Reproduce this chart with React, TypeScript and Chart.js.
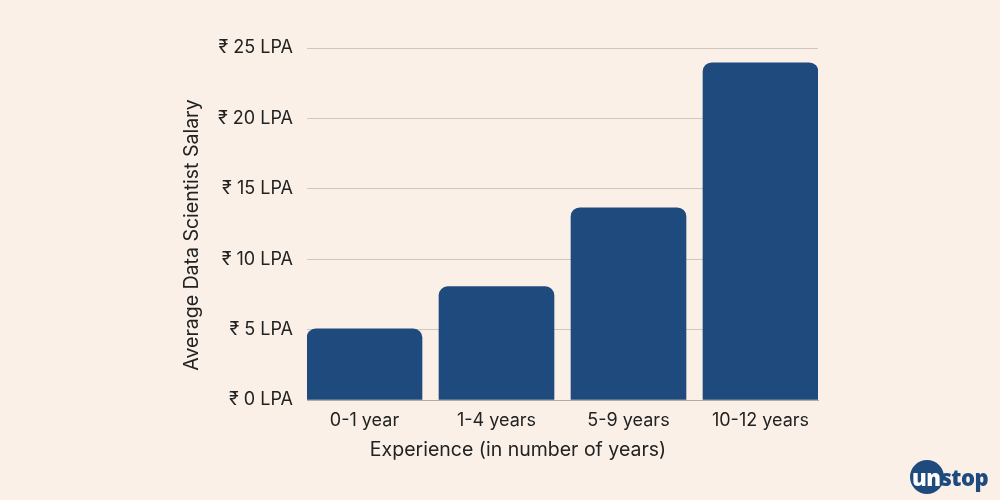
import React, { useEffect, useRef } from "react";
import { Chart, registerables } from "chart.js";

Chart.register(...registerables);

const categories = ["0-1 year", "1-4 years", "5-9 years", "10-12 years"];
const salaries = [5.05, 8.05, 13.65, 23.95];
const yTicks = [0, 5, 10, 15, 20, 25];
const xTitle = "Experience (in number of years)";
const yTitle = "Average Data Scientist Salary";

const BG = "#faf0e8";
const BAR = "#1f4a7e";
const FONT = "Inter, 'Noto Sans', sans-serif";

export default function App() {
  const ref = useRef<HTMLCanvasElement | null>(null);

  useEffect(() => {
    document.body.style.margin = "0";
    document.body.style.background = BG;
    const canvas = ref.current!;
    const titlesPlugin = {
      id: "titles",
      afterDraw(chart: any) {
        const ctx = chart.ctx;
        ctx.save();
        ctx.fillStyle = "#222222";
        ctx.font = `19.5px ${FONT}`;
        ctx.textAlign = "center";
        ctx.textBaseline = "middle";
        ctx.fillText(xTitle, 518, 450);
        ctx.translate(192, 235);
        ctx.rotate(-Math.PI / 2);
        ctx.fillText(yTitle, 0, 0);
        ctx.restore();
      },
    };
    const chart = new Chart(canvas, {
      type: "bar",
      data: {
        datasets: [
          {
            data: salaries.map((v, i) => ({ x: i, y: v })),
            backgroundColor: BAR,
            borderRadius: 9,
            borderSkipped: "bottom",
            barThickness: 115,
          } as any,
        ],
      },
      plugins: [titlesPlugin],
      options: {
        animation: false,
        responsive: false,
        maintainAspectRatio: false,
        layout: { padding: { top: 48, right: 182, left: 0, bottom: 0 } },
        plugins: { legend: { display: false }, tooltip: { enabled: false } },
        scales: {
          x: {
            type: "linear",
            offset: false,
            min: -0.4356,
            max: 3.4356,
            afterFit: (s: any) => {
              s.height = 100;
            },
            afterBuildTicks: (s: any) => {
              s.ticks = categories.map((_, i) => ({ value: i }));
            },
            grid: { display: false },
            border: { display: true, color: "#b3aba4", width: 1 },
            ticks: {
              autoSkip: false,
              maxRotation: 0,
              padding: 2,
              color: "#222222",
              font: { family: FONT, size: 18 },
              callback: (v: any) => categories[v] ?? "",
            },
          },
          y: {
            min: 0,
            max: 25,
            afterFit: (s: any) => {
              s.width = 307;
            },
            afterBuildTicks: (s: any) => {
              s.ticks = yTicks.map((v) => ({ value: v }));
            },
            grid: { color: "#cfc6be", drawTicks: false, lineWidth: 1 },
            border: { display: false },
            ticks: {
              padding: 14,
              color: "#222222",
              font: { family: FONT, size: 18 },
              callback: (v: any) => `₹ ${v} LPA`,
            },
          },
        },
      } as any,
    });
    return () => chart.destroy();
  }, []);

  return (
    <div style={{ position: "absolute", left: 0, top: 0, width: 1000, height: 500, background: BG }}>
      <canvas ref={ref} width={1000} height={500} style={{ display: "block" }} />
      <div
        style={{
          position: "absolute",
          left: 910,
          top: 460,
          width: 34,
          height: 34,
          borderRadius: "50%",
          background: BAR,
        }}
      />
      <div
        style={{
          position: "absolute",
          left: 912,
          top: 461,
          height: 32,
          display: "flex",
          alignItems: "center",
          fontFamily: "'Open Sans', 'Noto Sans', sans-serif",
          fontWeight: 800,
          fontSize: 22,
          letterSpacing: -0.5,
          lineHeight: 1,
        }}
      >
        <span style={{ color: "#ffffff" }}>un</span>
        <span style={{ color: BAR }}>stop</span>
      </div>
    </div>
  );
}
